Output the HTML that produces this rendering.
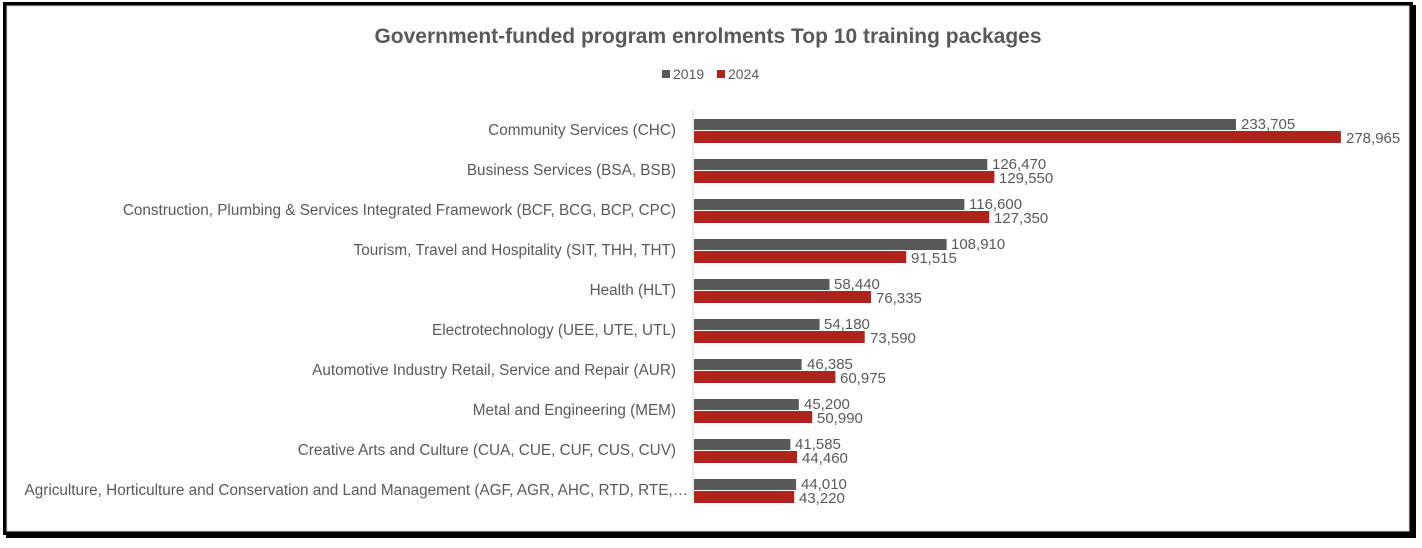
<!DOCTYPE html>
<html><head><meta charset="utf-8"><style>
html,body{margin:0;padding:0;background:#fff;}
svg{display:block;font-family:"Liberation Sans",sans-serif;}
</style></head><body>
<svg width="1422" height="548" xmlns="http://www.w3.org/2000/svg">
<rect x="0" y="0" width="1422" height="548" fill="#fff"/>
<rect x="6" y="5" width="1410" height="533" fill="#000"/>
<rect x="3" y="2" width="1410" height="533" fill="#000"/>
<rect x="7" y="6" width="1402" height="525" fill="#fff" stroke="#d9d9d9" stroke-width="1"/>
<text x="708" y="43" text-anchor="middle" font-size="21" font-weight="bold" fill="#595959">Government-funded program enrolments Top 10 training packages</text>
<rect x="662" y="70" width="8" height="8" fill="#595959"/>
<text x="673" y="79" font-size="14" fill="#595959">2019</text>
<rect x="717" y="70" width="8" height="8" fill="#b2221c"/>
<text x="728" y="79" font-size="14" fill="#595959">2024</text>
<line x1="693" y1="110" x2="693" y2="505" stroke="#d9d9d9"/>
<g font-size="15" fill="#595959">
<g text-anchor="end" font-size="15.3">
<text x="676" y="135">Community Services (CHC)</text>
<text x="676" y="175">Business Services (BSA, BSB)</text>
<text x="676" y="215">Construction, Plumbing &amp; Services Integrated Framework (BCF, BCG, BCP, CPC)</text>
<text x="676" y="255">Tourism, Travel and Hospitality (SIT, THH, THT)</text>
<text x="676" y="295">Health (HLT)</text>
<text x="676" y="335">Electrotechnology (UEE, UTE, UTL)</text>
<text x="676" y="375">Automotive Industry Retail, Service and Repair (AUR)</text>
<text x="676" y="415">Metal and Engineering (MEM)</text>
<text x="676" y="455">Creative Arts and Culture (CUA, CUE, CUF, CUS, CUV)</text>
<text x="688" y="495">Agriculture, Horticulture and Conservation and Land Management (AGF, AGR, AHC, RTD, RTE,…</text>
</g>
<g fill="#595959">
<rect x="694" y="119" width="542" height="11"/>
<rect x="694" y="159" width="293.3" height="11"/>
<rect x="694" y="199" width="270.4" height="11"/>
<rect x="694" y="239" width="252.6" height="11"/>
<rect x="694" y="279" width="135.5" height="11"/>
<rect x="694" y="319" width="125.6" height="11"/>
<rect x="694" y="359" width="107.6" height="11"/>
<rect x="694" y="399" width="104.8" height="11"/>
<rect x="694" y="439" width="96.4" height="11"/>
<rect x="694" y="479" width="102.1" height="11"/>
</g>
<g fill="#b2221c">
<rect x="694" y="131" width="646.9" height="12"/>
<rect x="694" y="171" width="300.4" height="12"/>
<rect x="694" y="211" width="295.3" height="12"/>
<rect x="694" y="251" width="212.2" height="12"/>
<rect x="694" y="291" width="177" height="12"/>
<rect x="694" y="331" width="170.7" height="12"/>
<rect x="694" y="371" width="141.4" height="12"/>
<rect x="694" y="411" width="118.2" height="12"/>
<rect x="694" y="451" width="103.1" height="12"/>
<rect x="694" y="491" width="100.2" height="12"/>
</g>
<text x="1241" y="129">233,705</text><text x="1346" y="143">278,965</text>
<text x="992" y="169">126,470</text><text x="999" y="183">129,550</text>
<text x="969" y="209">116,600</text><text x="994" y="223">127,350</text>
<text x="951" y="249">108,910</text><text x="911" y="263">91,515</text>
<text x="834" y="289">58,440</text><text x="876" y="303">76,335</text>
<text x="824" y="329">54,180</text><text x="870" y="343">73,590</text>
<text x="807" y="369">46,385</text><text x="840" y="383">60,975</text>
<text x="804" y="409">45,200</text><text x="817" y="423">50,990</text>
<text x="795" y="449">41,585</text><text x="802" y="463">44,460</text>
<text x="801" y="489">44,010</text><text x="799" y="503">43,220</text>
</g>
</svg>
</body></html>
